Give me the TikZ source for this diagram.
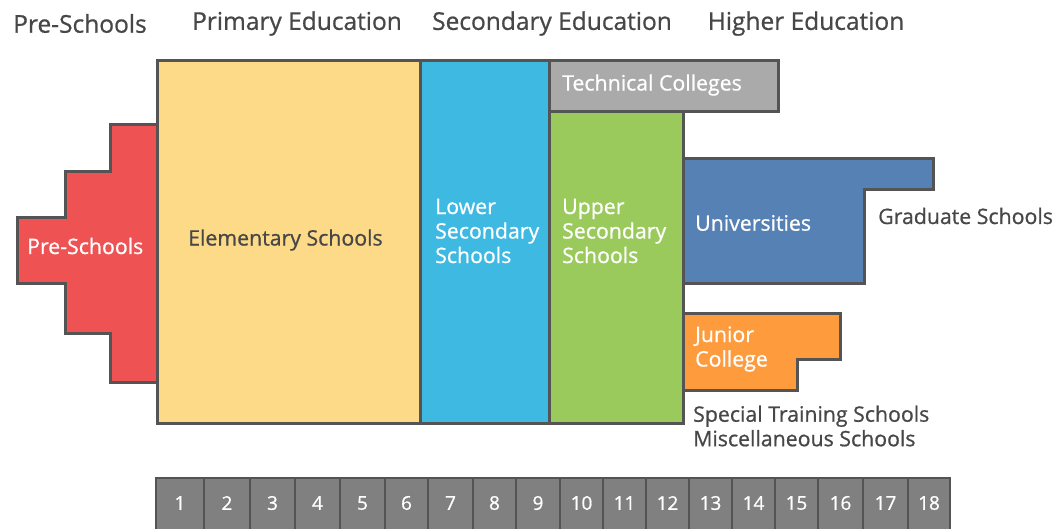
\documentclass[tikz,border=0pt]{standalone}
\usepackage{fontspec}
\setmainfont{Open Sans}
\newfontfamily\semifont{Open Sans}[FakeBold=0.8]
\definecolor{preRed}{HTML}{EE5253}
\definecolor{elemYellow}{HTML}{FDDA88}
\definecolor{lowBlue}{HTML}{3DB9E2}
\definecolor{techGray}{HTML}{AAAAAA}
\definecolor{upGreen}{HTML}{9ACA5C}
\definecolor{uniBlue}{HTML}{5681B4}
\definecolor{jcOrange}{HTML}{FD9B3D}
\definecolor{lineGray}{HTML}{545454}
\definecolor{textGray}{HTML}{474747}
\definecolor{ageGray}{HTML}{808080}

\begin{document}
\begin{tikzpicture}[x=1pt,y=-1pt,
    block/.style={draw=lineGray,line width=3pt,line join=miter},
    head/.style={text=textGray,font=\semifont\fontsize{24.5}{26}\selectfont},
    inlabel/.style={anchor=west,inner sep=0pt,align=left,text=white,font=\semifont\fontsize{21.3}{24.5}\selectfont},
    outlabel/.style={inlabel,text=textGray},
    agebox/.style={draw=lineGray,line width=2pt,fill=ageGray}]
    \useasboundingbox (0,0) rectangle (1058,528);
    % Stage headings
    \node[head] (hpre) at (80,23.5) {Pre-Schools};
    \node[head] (hprim) at (297,23.5) {Primary Education};
    \node[head] (hsec) at (552,23.5) {Secondary Education};
    \node[head] (hhigh) at (806,23.5) {Higher Education};
    % Pre-schools
    \draw[block,fill=preRed] (157,124) -- (110,124) -- (110,171) -- (65,171) -- (65,217) -- (17,217)
        -- (17,283) -- (65,283) -- (65,333) -- (110,333) -- (110,382) -- (157,382) -- cycle;
    % Elementary
    \draw[block,fill=elemYellow] (157,60) rectangle (420,423);
    % Lower secondary
    \draw[block,fill=lowBlue] (420,60) rectangle (549,423);
    % Technical colleges
    \draw[block,fill=techGray] (549,60) rectangle (778,111);
    % Upper secondary
    \draw[block,fill=upGreen] (549,111) rectangle (683,423);
    % Universities
    \draw[block,fill=uniBlue] (683,158) -- (933,158) -- (933,189) -- (864,189) -- (864,283) -- (683,283) -- cycle;
    % Junior college
    \draw[block,fill=jcOrange] (683,313) -- (840,313) -- (840,359) -- (797,359) -- (797,390) -- (683,390) -- cycle;
    % Labels
    \node[inlabel] (pre) at (27,246) {Pre-Schools};
    \node[outlabel] (elem) at (188,240) {Elementary Schools};
    \node[inlabel] (lower) at (435,231) {Lower\\Secondary\\Schools};
    \node[inlabel] (upper) at (562,231) {Upper\\Secondary\\Schools};
    \node[inlabel] (tech) at (562,85) {Technical Colleges};
    \node[inlabel] (uni) at (695,223) {Universities};
    \node[outlabel] (grad) at (878,216) {Graduate Schools};
    \node[inlabel] (junior) at (695,349) {Junior\\College};
    \node[outlabel] (special) at (693,426) {Special Training Schools\\Miscellaneous Schools};
    % Ages
    \foreach \n/\a/\b in {1/156/204,2/204/250,3/250/295,4/295/340,5/340/385,6/385/428,
        7/428/473,8/473/516,9/516/560,10/560/603,11/603/646,12/646/689,
        13/689/732,14/732/775,15/775/818,16/818/863,17/863/908,18/908/950}
    {
        \draw[agebox] (\a,478) rectangle (\b,532);
        \node[text=white,font=\semifont\fontsize{19}{22}\selectfont] (age\n) at ({(\a+\b)/2},503) {\n};
    }
\end{tikzpicture}
\end{document}
